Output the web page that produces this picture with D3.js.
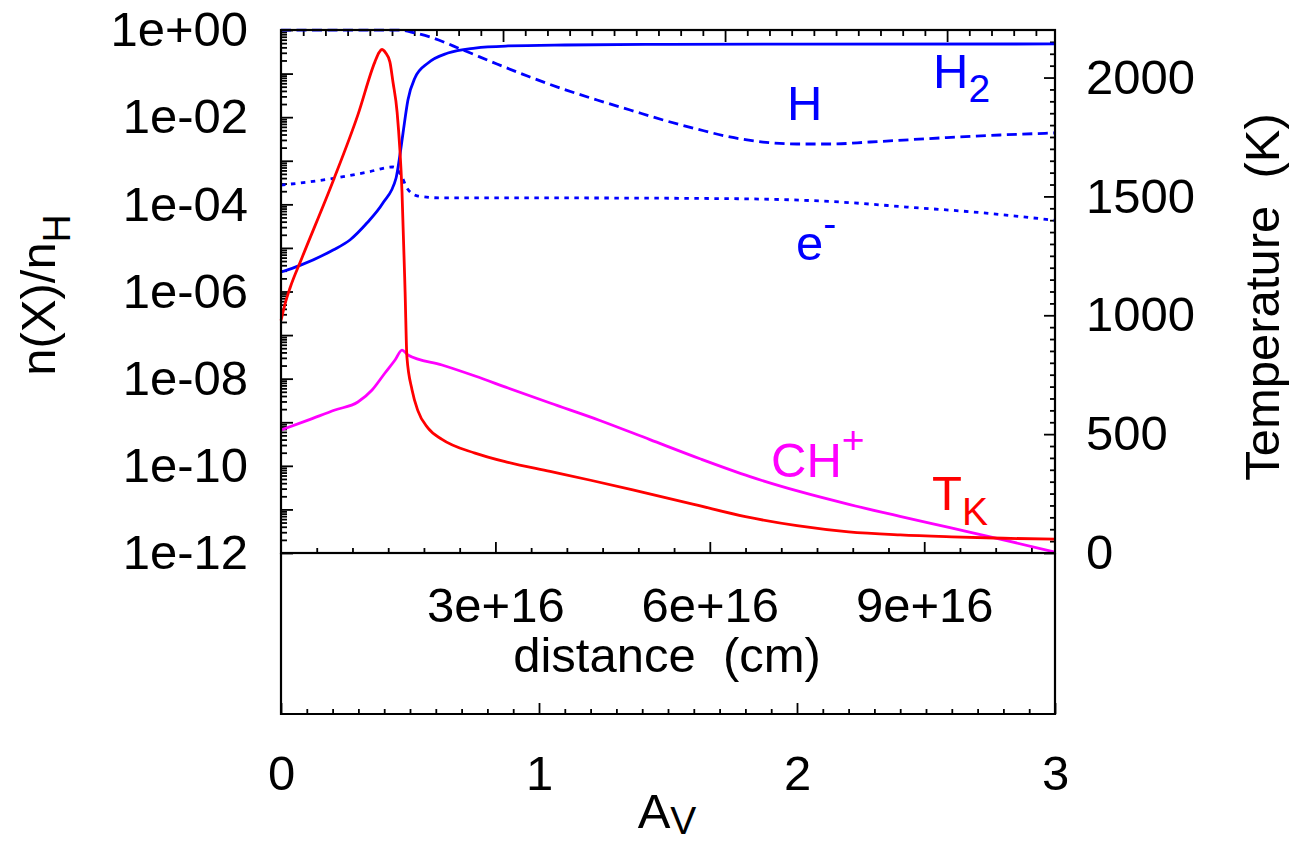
<!DOCTYPE html>
<html>
<head>
<meta charset="utf-8">
<script src="https://cdn.jsdelivr.net/npm/d3@7"></script>
<style>
  html, body { margin: 0; padding: 0; background: #fff; }
  svg { display: block; }
  text { font-family: "Liberation Sans", Arial, Helvetica, sans-serif; white-space: pre; }
</style>
</head>
<body>
<svg id="chart" width="1292" height="842"></svg>
<script>
// ---------------- data ----------------
// Kinetic temperature (K) vs A_V
const avTK  = [0, 0.015, 0.035, 0.081, 0.202, 0.298, 0.364, 0.380, 0.391, 0.405, 0.422, 0.434, 0.450, 0.469, 0.481, 0.488, 0.508, 0.530, 0.570, 0.624, 0.752, 0.880, 1.043, 1.2, 1.4, 1.6, 1.8, 2.0, 2.2, 2.4, 2.6, 2.8, 3.0];
const tempK = [978, 1045, 1115, 1241, 1565, 1843, 2066, 2105, 2118, 2105, 2066, 1981, 1855, 1519, 1098, 825, 686, 600, 525, 478, 420, 381, 343, 306, 256, 205, 153, 115, 89, 76, 68, 62, 58];

// H2 abundance
const avH2 = [0, 0.074, 0.202, 0.267, 0.333, 0.395, 0.446, 0.461, 0.473, 0.492, 0.519, 0.570, 0.647, 0.752, 0.880, 1.101, 1.5, 2.0, 3.0];
const nH2  = [2.8e-6, 3.98e-6, 8.95e-6, 1.52e-5, 3.72e-5, 1.07e-4, 4.02e-4, 1.36e-3, 4.34e-3, 2.48e-2, 7.93e-2, 0.175, 0.296, 0.386, 0.430, 0.453, 0.468, 0.475, 0.478];

// H abundance
const avH = [0, 0.20, 0.461, 0.519, 0.578, 0.705, 0.837, 0.965, 1.093, 1.225, 1.353, 1.481, 1.612, 1.740, 1.868, 2.0, 2.128, 2.283, 2.554, 2.787, 3.0];
const nHa = [0.995, 0.995, 0.99, 0.853, 0.690, 0.348, 0.166, 0.0835, 0.0443, 0.0248, 0.0146, 0.00861, 0.00535, 0.00351, 0.00269, 0.00242, 0.00242, 0.00269, 0.00333, 0.00390, 0.00434];

// electron abundance
const avE = [0, 0.105, 0.236, 0.337, 0.434, 0.469, 0.488, 0.531, 0.624, 1.101, 1.740, 2.167, 2.426, 2.682, 3.0];
const nE  = [2.77e-4, 3.25e-4, 4.24e-4, 5.52e-4, 7.18e-4, 4.24e-4, 2.37e-4, 1.55e-4, 1.40e-4, 1.40e-4, 1.35e-4, 1.13e-4, 8.67e-5, 6.67e-5, 4.3e-5];

// CH+ abundance
const avCH = [0, 0.105, 0.209, 0.298, 0.353, 0.403, 0.442, 0.469, 0.492, 0.624, 0.752, 0.880, 1.043, 1.236, 1.430, 1.624, 1.818, 2.012, 2.205, 2.399, 2.593, 2.787, 3.0];
const nCH  = [6.64e-10, 1.12e-9, 1.91e-9, 2.91e-9, 5.48e-9, 1.35e-8, 2.68e-8, 4.54e-8, 3.48e-8, 2.06e-8, 1.15e-8, 6.10e-9, 2.76e-9, 1.10e-9, 3.99e-10, 1.45e-10, 5.65e-11, 2.55e-11, 1.29e-11, 6.93e-12, 3.81e-12, 2.09e-12, 1.05e-12];

// tick definitions
const leftDecades   = [-12, -11, -10, -9, -8, -7, -6, -5, -4, -3, -2, -1, 0];
const leftLabelled  = [-12, -10, -8, -6, -4, -2, 0];
const rightTicks    = [0, 500, 1000, 1500, 2000];
const distTicks     = [3e16, 6e16, 9e16];
const distTickLabels = ["3e+16", "6e+16", "9e+16"];
const avTicks       = [0, 1, 2, 3];
const topMajor      = [1, 2, 3];

// ---------------- layout ----------------
const L = 281, R = 1055, T = 30, B = 553, B2 = 714;
const FS = 49, FSsub = 39;
const svg = d3.select("#chart");

const x    = d3.scaleLinear().domain([0, 3]).range([L, R]);
const xD   = d3.scaleLinear().domain([0, 1.083e17]).range([L, R]);
const xTop = d3.scaleLinear().domain([0, 3.486]).range([L, R]);
const yL   = d3.scaleLog().domain([1e-12, 1]).range([B, T]);
const yR   = d3.scaleLinear().domain([0, 2200]).range([B, T]);

function styleAxis(g) {
  g.select(".domain").remove();
  g.attr("font-family", "Liberation Sans, Arial, Helvetica, sans-serif").attr("font-size", FS);
  g.selectAll(".tick line").attr("stroke", "#000").attr("stroke-width", 1.8);
  g.selectAll(".tick text").attr("fill", "#000");
}

// left axis: minor ticks
const leftMinor = [];
leftDecades.forEach(e => { if (e < 0) for (let m = 2; m <= 9; m++) leftMinor.push(m * Math.pow(10, e)); });
svg.append("g").attr("transform", `translate(${L},0)`)
  .call(d3.axisLeft(yL).tickValues(leftMinor).tickSizeInner(-6).tickSizeOuter(0).tickFormat(() => ""))
  .call(styleAxis);
// left axis: decade ticks + labels
const fmtExp = e => "1e" + (e >= 0 ? "+" : "-") + String(Math.abs(e)).padStart(2, "0");
svg.append("g").attr("transform", `translate(${L},0)`)
  .call(d3.axisLeft(yL).tickValues(leftDecades.map(e => Math.pow(10, e))).tickSizeInner(-12).tickSizeOuter(0).tickPadding(33)
    .tickFormat(d => { const e = Math.round(Math.log10(d)); return leftLabelled.includes(e) ? fmtExp(e) : ""; }))
  .call(styleAxis);

// right axis
svg.append("g").attr("transform", `translate(${R},0)`)
  .call(d3.axisRight(yR).tickValues(d3.range(50, 2200, 50).filter(v => v % 500 !== 0)).tickSizeInner(-5).tickSizeOuter(0).tickFormat(() => ""))
  .call(styleAxis);
svg.append("g").attr("transform", `translate(${R},0)`)
  .call(d3.axisRight(yR).tickValues(rightTicks).tickSizeInner(-11).tickSizeOuter(0).tickPadding(31).tickFormat(d3.format("d")))
  .call(styleAxis);

// top axis (ticks only)
svg.append("g").attr("transform", `translate(0,${T})`)
  .call(d3.axisTop(xTop).tickValues(d3.range(1, 35).map(v => v / 10).filter(v => Math.abs(v - Math.round(v)) > 1e-6)).tickSizeInner(-6).tickSizeOuter(0).tickFormat(() => ""))
  .call(styleAxis);
svg.append("g").attr("transform", `translate(0,${T})`)
  .call(d3.axisTop(xTop).tickValues(topMajor).tickSizeInner(-12).tickSizeOuter(0).tickFormat(() => ""))
  .call(styleAxis);

// distance axis on bottom of main panel
svg.append("g").attr("transform", `translate(0,${B})`)
  .call(d3.axisBottom(xD).tickValues(d3.range(1, 22).map(v => v * 5e15).filter(v => v % 3e16 !== 0)).tickSizeInner(-5).tickSizeOuter(0).tickFormat(() => ""))
  .call(styleAxis);
svg.append("g").attr("transform", `translate(0,${B})`)
  .call(d3.axisBottom(xD).tickValues(distTicks).tickSizeInner(-11).tickSizeOuter(0).tickPadding(34)
    .tickFormat((d, i) => distTickLabels[i]))
  .call(styleAxis);

// A_V axis at bottom of lower box
svg.append("g").attr("transform", `translate(0,${B2})`)
  .call(d3.axisBottom(x).tickValues(d3.range(1, 30).map(v => v / 10).filter(v => Math.abs(v - Math.round(v)) > 1e-6)).tickSizeInner(-5).tickSizeOuter(0).tickFormat(() => ""))
  .call(styleAxis);
svg.append("g").attr("transform", `translate(0,${B2})`)
  .call(d3.axisBottom(x).tickValues(avTicks).tickSizeInner(-11).tickSizeOuter(0).tickPadding(41).tickFormat(d3.format("d")))
  .call(styleAxis);

// ---------------- curves ----------------
const curves = svg.append("g").attr("fill", "none").attr("stroke-width", 2.8).attr("stroke-linejoin", "round");
function drawAbund(xs, ys, color, dash) {
  const line = d3.line().x(d => x(d[0])).y(d => yL(d[1])).curve(d3.curveMonotoneX);
  const p = curves.append("path").datum(xs.map((v, i) => [v, ys[i]])).attr("d", line).attr("stroke", color);
  if (dash) p.attr("stroke-dasharray", dash);
}
drawAbund(avCH, nCH, "#ff00ff");
drawAbund(avE, nE, "#0000ff", "4.5,5.5");
drawAbund(avH, nHa, "#0000ff", "10,5.5");
drawAbund(avH2, nH2, "#0000ff");
curves.append("path")
  .datum(avTK.map((v, i) => [v, tempK[i]]))
  .attr("d", d3.line().x(d => x(d[0])).y(d => yR(d[1])).curve(d3.curveMonotoneX))
  .attr("stroke", "#ff0000");

// ---------------- frame ----------------
const frame = svg.append("g").attr("stroke", "#000").attr("stroke-width", 2.2).attr("fill", "none");
frame.append("rect").attr("x", L).attr("y", T).attr("width", R - L).attr("height", B - T);
frame.append("path").attr("d", `M${L},${B}V${B2}H${R}V${B}`);

// ---------------- labels ----------------
const lab = svg.append("g").attr("font-size", FS);
function labelSub(xp, yp, main, sub, dy, color) {
  const t = lab.append("text").attr("x", xp).attr("y", yp).attr("fill", color).text(main);
  t.append("tspan").attr("dy", dy).attr("font-size", FSsub).text(sub);
  return t;
}
labelSub(933, 88, "H", "2", 14, "#0000ff");
lab.append("text").attr("x", 787).attr("y", 120).attr("fill", "#0000ff").text("H");
labelSub(796, 260, "e", "-", -23, "#0000ff");
labelSub(771, 477, "CH", "+", -24, "#ff00ff");
labelSub(932, 510, "T", "K", 15, "#ff0000");

// axis titles
const yl = lab.append("text").attr("transform", "translate(55,295) rotate(-90)").attr("text-anchor", "middle").attr("fill", "#000").text("n(X)/n");
yl.append("tspan").attr("dy", 15).attr("font-size", FSsub).text("H");
lab.append("text").attr("transform", "translate(1279,297) rotate(-90)").attr("text-anchor", "middle").attr("fill", "#000").text("Temperature  (K)");
lab.append("text").attr("x", 667).attr("y", 672).attr("text-anchor", "middle").attr("fill", "#000").text("distance  (cm)");
const av = lab.append("text").attr("x", 667).attr("y", 828).attr("text-anchor", "middle").attr("fill", "#000").text("A");
av.append("tspan").attr("dy", 6).attr("font-size", FSsub).text("V");
</script>
</body>
</html>
